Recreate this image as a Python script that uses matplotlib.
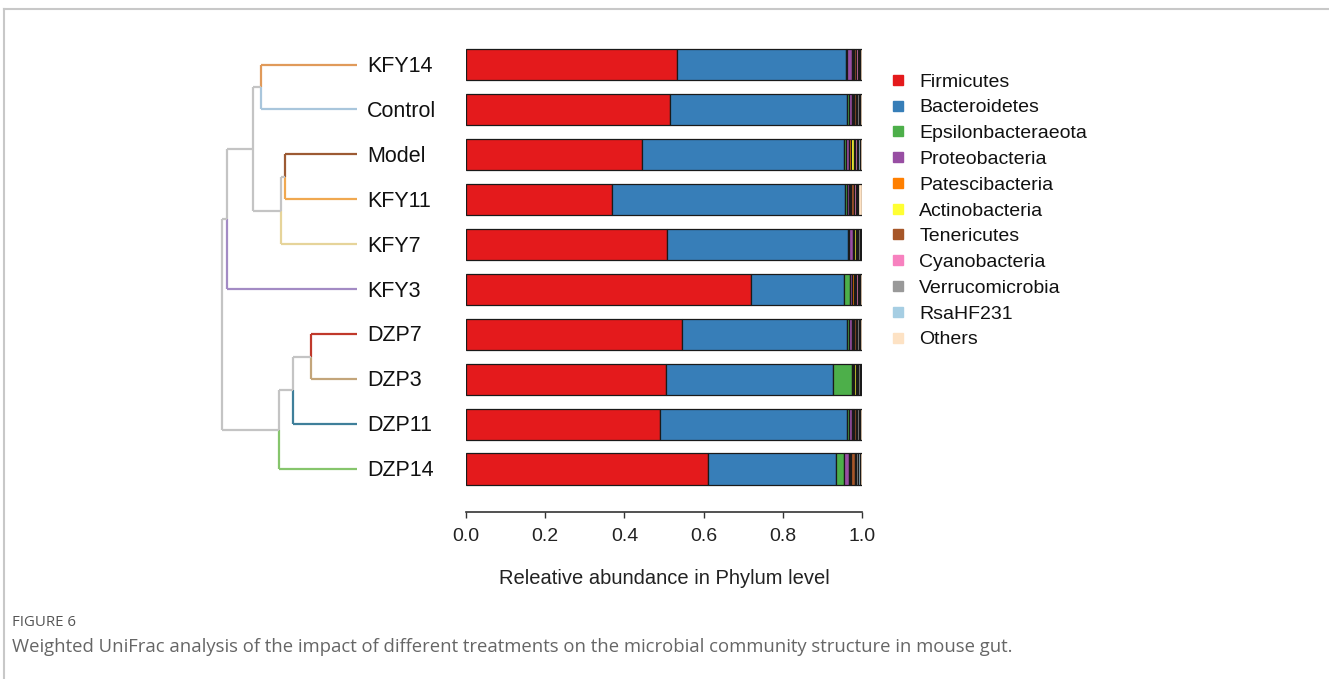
import matplotlib
matplotlib.use("Agg")
import matplotlib.pyplot as plt
from matplotlib.lines import Line2D

plt.rcParams['font.family'] = ['Liberation Sans', 'DejaVu Sans']

W, H = 1329, 679

samples = ['KFY14', 'Control', 'Model', 'KFY11', 'KFY7', 'KFY3',
           'DZP7', 'DZP3', 'DZP11', 'DZP14']

phyla = ['Firmicutes', 'Bacteroidetes', 'Epsilonbacteraeota', 'Proteobacteria',
         'Patescibacteria', 'Actinobacteria', 'Tenericutes', 'Cyanobacteria',
         'Verrucomicrobia', 'RsaHF231', 'Others']
phyla_colors = ['#e41a1c', '#377eb8', '#4daf4a', '#984ea3', '#ff7f00', '#ffff33',
                '#a65628', '#f781bf', '#999999', '#a6cee3', '#fde2c4']

# relative abundance per phylum, one value per sample (order of samples)
firmicutes     = [0.533, 0.515, 0.444, 0.369, 0.508, 0.720, 0.546, 0.506, 0.489, 0.610]
bacteroidetes  = [0.427, 0.448, 0.511, 0.588, 0.457, 0.235, 0.416, 0.421, 0.473, 0.324]
epsilon        = [0.003, 0.003, 0.004, 0.006, 0.003, 0.015, 0.005, 0.047, 0.005, 0.020]
proteobacteria = [0.012, 0.008, 0.008, 0.004, 0.010, 0.006, 0.008, 0.004, 0.007, 0.012]
patesci        = [0.003, 0.003, 0.004, 0.002, 0.003, 0.003, 0.003, 0.003, 0.003, 0.003]
actino         = [0.003, 0.003, 0.008, 0.002, 0.003, 0.003, 0.003, 0.003, 0.003, 0.003]
tenericutes    = [0.004, 0.004, 0.004, 0.008, 0.004, 0.004, 0.004, 0.004, 0.004, 0.010]
cyano          = [0.004, 0.004, 0.004, 0.006, 0.003, 0.004, 0.003, 0.003, 0.004, 0.004]
verruco        = [0.004, 0.004, 0.004, 0.003, 0.003, 0.003, 0.004, 0.003, 0.004, 0.004]
rsahf231       = [0.003, 0.004, 0.004, 0.003, 0.003, 0.003, 0.004, 0.003, 0.004, 0.004]
others         = [0.004, 0.004, 0.005, 0.009, 0.003, 0.004, 0.004, 0.003, 0.004, 0.006]
abund = [firmicutes, bacteroidetes, epsilon, proteobacteria, patesci, actino,
         tenericutes, cyano, verruco, rsahf231, others]

# dendrogram (weighted UniFrac clustering): leaves colours and merges
leaf_colors = ['#e09a5a', '#a9c6dc', '#9c5a33', '#f0a850', '#e6d49a', '#a38bc4',
               '#c0392b', '#c3a57a', '#3f7f9a', '#86c56c']
# (child a, child b, height) ; children are sample names or node ids
merges = [('KFY14', 'Control', 0.711),
          ('Model', 'KFY11', 0.533),
          (1, 'KFY7', 0.563),
          (0, 2, 0.770),
          (3, 'KFY3', 0.963),
          ('DZP7', 'DZP3', 0.341),
          (5, 'DZP11', 0.474),
          (6, 'DZP14', 0.578),
          (4, 7, 1.000)]
node_gray = '#c4c4c4'

fig = plt.figure(figsize=(W / 100, H / 100), dpi=100)


def frac(x0, y_top, x1, y_bot):
    return [x0 / W, 1 - y_bot / H, (x1 - x0) / W, (y_bot - y_top) / H]


# y mapping: bar centres 64.5 px (first) .. 469 px (last)
step = (469 - 64.5) / 9
y_top = (40 - 64.5) / step
y_bot = (495 - 64.5) / step

ax = fig.add_axes(frac(466, 40, 862, 495))
ypos = list(range(len(samples)))
left = [0.0] * len(samples)
for vals, col in zip(abund, phyla_colors):
    ax.barh(ypos, vals, left=left, height=0.69, color=col,
            edgecolor='#1a1a1a', linewidth=0.9)
    left = [l + v for l, v in zip(left, vals)]
ax.set_xlim(0, 1.0)
ax.set_ylim(y_bot, y_top)
for s in ['left', 'top', 'right']:
    ax.spines[s].set_visible(False)
ax.spines['bottom'].set_position(('outward', 12))
ax.spines['bottom'].set_bounds(0, 1)
ax.spines['bottom'].set_color('#333333')
ax.spines['bottom'].set_linewidth(1.2)
ax.set_yticks([])
ax.set_xticks([0, 0.2, 0.4, 0.6, 0.8, 1.0])
ax.set_xticklabels(['0.0', '0.2', '0.4', '0.6', '0.8', '1.0'])
ax.tick_params(axis='x', length=4, width=1, color='#333333', labelsize=14,
               pad=8, labelcolor='#222222')
ax.set_xlabel('Releative abundance in Phylum level', fontsize=14.5,
              labelpad=17, color='#222222')

# dendrogram
axd = fig.add_axes(frac(222, 40, 357, 495))
axd.set_xlim(1.0, 0.0)
axd.set_ylim(y_bot, y_top)
axd.axis('off')

pos = {s: (0.0, i, leaf_colors[i]) for i, s in enumerate(samples)}
lw = 1.6
for k, (a, b, h) in enumerate(merges):
    xa, ya, ca = pos[a]
    xb, yb, cb = pos[b]
    ym = (ya + yb) / 2
    axd.plot([h, xa], [ya, ya], color=ca, lw=lw, solid_capstyle='butt', clip_on=False)
    axd.plot([h, xb], [yb, yb], color=cb, lw=lw, solid_capstyle='butt', clip_on=False)
    axd.plot([h, h], [ya, ym], color=ca, lw=lw, solid_capstyle='butt', clip_on=False)
    axd.plot([h, h], [ym, yb], color=cb, lw=lw, solid_capstyle='butt', clip_on=False)
    pos[k] = (h, ym, node_gray)

for i, s in enumerate(samples):
    axd.text(-10 / 135, i + 0.04, s, ha='left', va='center', fontsize=15.5,
             color='#111111', clip_on=False)

# legend
handles = [Line2D([], [], marker='s', ls='', color=c, markersize=6.5)
           for c in phyla_colors]
fig.legend(handles, phyla, loc='upper left', bbox_to_anchor=(890 / W, 1 - 73 / H),
           frameon=False, fontsize=14, handlelength=0.8, handletextpad=0.7,
           labelspacing=0.42, borderpad=0, borderaxespad=0, labelcolor='#111111')

# caption and frame
fig.text(12 / W, 1 - 622 / H, 'FIGURE 6', fontsize=10.8, color='#555555',
         va='center', family='Open Sans')
fig.text(12 / W, 1 - 647 / H,
         'Weighted UniFrac analysis of the impact of different treatments on the '
         'microbial community structure in mouse gut.',
         fontsize=13.3, color='#666666', va='center', family='Open Sans')
fig.add_artist(Line2D([4 / W, 1], [1 - 9 / H, 1 - 9 / H], color='#c8c8c8', lw=1.5))
fig.add_artist(Line2D([4 / W, 4 / W], [0, 1 - 9 / H], color='#c8c8c8', lw=1.5))

fig.savefig('out.png', dpi=100)
